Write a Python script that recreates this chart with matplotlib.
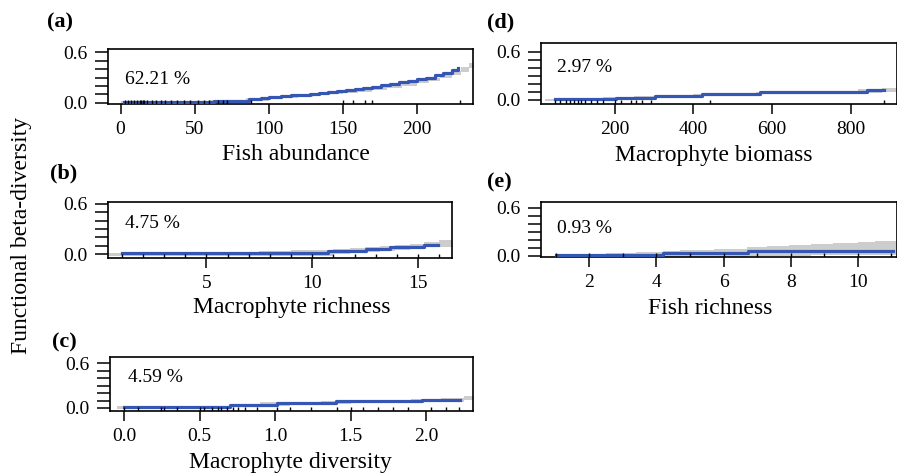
import numpy as np
import matplotlib
matplotlib.use("Agg")
import matplotlib.pyplot as plt

plt.rcParams['font.family'] = ['Liberation Serif', 'DejaVu Serif']

W, H = 897, 473
BLUE = '#3556b3'
GREY = '#cdcdcd'

# (a) Fish abundance
a_x = [2, 63, 87, 95, 100, 108, 115, 122, 128, 134, 140, 146, 152, 158, 164, 170, 176,
       182, 188, 194, 200, 206, 212, 218, 224, 228]
a_y = [0.005, 0.02, 0.04, 0.05, 0.064, 0.075, 0.085, 0.095, 0.105, 0.115, 0.125, 0.137,
       0.148, 0.16, 0.175, 0.19, 0.205, 0.225, 0.245, 0.26, 0.28, 0.30, 0.325, 0.355, 0.385, 0.41]
a_gx = [0, 60, 85, 100, 110, 120, 130, 140, 150, 160, 170, 180, 190, 200, 208, 216, 224,
        230, 235, 240]
a_glo = [-0.01, 0.0, 0.02, 0.045, 0.055, 0.07, 0.085, 0.10, 0.115, 0.13, 0.15, 0.17, 0.20,
         0.23, 0.26, 0.29, 0.33, 0.37, 0.41, 0.41]
a_ghi = [0.015, 0.03, 0.05, 0.075, 0.085, 0.10, 0.115, 0.13, 0.15, 0.17, 0.19, 0.215, 0.24,
         0.27, 0.30, 0.34, 0.38, 0.43, 0.47, 0.47]
a_rug = [3, 5, 7, 9, 11, 13, 14, 15, 16, 18, 21, 24, 27, 30, 34, 38, 43, 47, 52, 56, 60,
         66, 69, 72, 88, 150, 157, 165, 170, 229]

# (b) Macrophyte richness
b_x = [1, 4.5, 9, 10.75, 12.56, 13.66, 15.3, 15.94]
b_y = [0.01, 0.012, 0.015, 0.035, 0.06, 0.08, 0.105, 0.105]
b_gx = [0.3, 4.5, 6, 7.5, 9, 10.2, 11, 11.8, 12.5, 13.2, 13.9, 14.6, 15.3, 16, 16.7]
b_glo = [-0.02, -0.02, -0.02, -0.02, -0.02, -0.02, 0.0, 0.01, 0.025, 0.04, 0.05, 0.06,
         0.08, 0.09, 0.09]
b_ghi = [0.01, 0.02, 0.03, 0.035, 0.045, 0.055, 0.06, 0.07, 0.085, 0.10, 0.11, 0.125,
         0.14, 0.165, 0.165]
b_rug = list(range(1, 17))

# (c) Macrophyte diversity
c_x = [0.0, 0.70, 1.01, 1.40, 1.97, 2.225]
c_y = [0.014, 0.036, 0.063, 0.09, 0.108, 0.108]
c_gx = [-0.05, 0.4, 0.7, 0.9, 1.1, 1.3, 1.5, 1.7, 1.9, 2.1, 2.25, 2.35]
c_glo = [-0.01, 0.0, 0.015, 0.03, 0.045, 0.05, 0.06, 0.065, 0.075, 0.085, 0.10, 0.10]
c_ghi = [0.02, 0.03, 0.05, 0.075, 0.085, 0.095, 0.105, 0.11, 0.12, 0.13, 0.16, 0.16]
c_rug = [0.0, 0.09, 0.24, 0.26, 0.35, 0.50, 0.53, 0.58, 0.62, 0.64, 0.68, 0.72, 0.75, 0.80,
         0.88, 1.01, 1.10, 1.24, 1.41, 1.50, 1.58, 1.68, 1.78, 1.88, 2.03, 2.13, 2.22]

# (d) Macrophyte biomass
d_x = [47, 204, 302, 421, 569, 841, 885]
d_y = [0.01, 0.03, 0.05, 0.075, 0.10, 0.125, 0.125]
d_gx = [22, 100, 170, 250, 320, 400, 480, 560, 650, 740, 820, 880, 930]
d_glo = [-0.01, -0.005, 0.005, 0.02, 0.035, 0.05, 0.06, 0.07, 0.08, 0.085, 0.09, 0.10, 0.10]
d_ghi = [0.015, 0.025, 0.035, 0.05, 0.065, 0.08, 0.09, 0.105, 0.11, 0.115, 0.135, 0.145, 0.145]
d_rug = [47, 60, 75, 85, 95, 105, 115, 125, 140, 155, 170, 200, 215, 240, 255, 270, 292, 442, 885]

# (e) Fish richness
e_x = [1.0, 4.2, 6.73, 11.04]
e_y = [0.013, 0.034, 0.055, 0.055]
e_gx = [1.0, 2.5, 3.4, 4.2, 4.7, 5.7, 6.7, 7.3, 7.95, 8.6, 9.25, 10.0, 10.5, 11.3]
e_glo = [-0.01, -0.01, -0.01, -0.01, -0.01, -0.01, 0.0, 0.0, 0.0, 0.005, 0.005, 0.01,
         0.01, 0.01]
e_ghi = [0.02, 0.03, 0.045, 0.06, 0.07, 0.09, 0.105, 0.12, 0.135, 0.15, 0.16, 0.17,
         0.18, 0.18]
e_rug = list(range(1, 12))

panels = [
    # label, box (left, right, top, bottom) px, xlim, ylim, xticks, xlabel, pct, data
    ('(a)', (108, 473, 49, 104), (-8.5, 238), (-0.018, 0.642), [0, 50, 100, 150, 200],
     'Fish abundance', '62.21 %', (a_x, a_y, a_gx, a_glo, a_ghi, a_rug)),
    ('(b)', (108, 452, 202, 258), (0.35, 16.6), (-0.045, 0.62), [5, 10, 15],
     'Macrophyte richness', '4.75 %', (b_x, b_y, b_gx, b_glo, b_ghi, b_rug)),
    ('(c)', (110, 473, 357, 411), (-0.095, 2.31), (-0.04, 0.68), [0.0, 0.5, 1.0, 1.5, 2.0],
     'Macrophyte diversity', '4.59 %', (c_x, c_y, c_gx, c_glo, c_ghi, c_rug)),
    ('(d)', (541, 896.5, 43, 104), (12, 917), (-0.05, 0.71), [200, 400, 600, 800],
     'Macrophyte biomass', '2.97 %', (d_x, d_y, d_gx, d_glo, d_ghi, d_rug)),
    ('(e)', (541, 896.5, 202, 257), (0.56, 11.15), (-0.016, 0.675), [2, 4, 6, 8, 10],
     'Fish richness', '0.93 %', (e_x, e_y, e_gx, e_glo, e_ghi, e_rug)),
]

xlabel_pos = [(296, 155), (292, 307), (290, 462), (714, 155), (710, 309)]
label_pos = [(47, 22), (50, 173), (52, 342), (487, 22), (487, 182)]
pct_pos = [(125, 80), (125, 223), (128, 378), (557, 67), (557, 228)]

fig = plt.figure(figsize=(W / 100, H / 100), dpi=100)

for i, (lab, box, xlim, ylim, xticks, xlabel, pct, data) in enumerate(panels):
    l, r, t, b = box
    ax = fig.add_axes([l / W, 1 - b / H, (r - l) / W, (b - t) / H])
    x, y, gx, glo, ghi, rug = data
    ax.fill_between(gx, glo, ghi, step='post', color=GREY, lw=0, zorder=1)
    ax.step(x + [x[-1] + 1e-9], y + [y[-1]], where='post', color=BLUE, lw=2.3, zorder=3)
    ax.vlines(rug, 0, 0.07, color='black', lw=1.0, transform=ax.get_xaxis_transform(), zorder=4)
    ax.set_xlim(xlim)
    ax.set_ylim(ylim)
    ax.set_xticks(xticks)
    if lab == '(c)':
        ax.set_xticklabels(['%.1f' % v for v in xticks])
    ax.set_yticks(np.arange(0, 0.61, 0.1))
    ax.set_yticklabels(['0.0', '', '', '', '', '', '0.6'])
    ax.tick_params(axis='y', length=9.5, width=1.1, pad=5, labelsize=14)
    ax.tick_params(axis='x', length=7, width=1.1, pad=5, labelsize=14)
    for s in ax.spines.values():
        s.set_linewidth(1.2)
    fig.text(xlabel_pos[i][0] / W, 1 - xlabel_pos[i][1] / H, xlabel,
             ha='center', va='center', fontsize=17)
    fig.text(label_pos[i][0] / W, 1 - label_pos[i][1] / H, lab,
             ha='left', va='center', fontsize=16, fontweight='bold')
    fig.text(pct_pos[i][0] / W, 1 - pct_pos[i][1] / H, pct,
             ha='left', va='center', fontsize=14)

fig.text(22 / W, 1 - 235 / H, 'Functional beta-diversity', rotation=90,
         ha='center', va='center', fontsize=17)

fig.savefig('out.png', dpi=100)
